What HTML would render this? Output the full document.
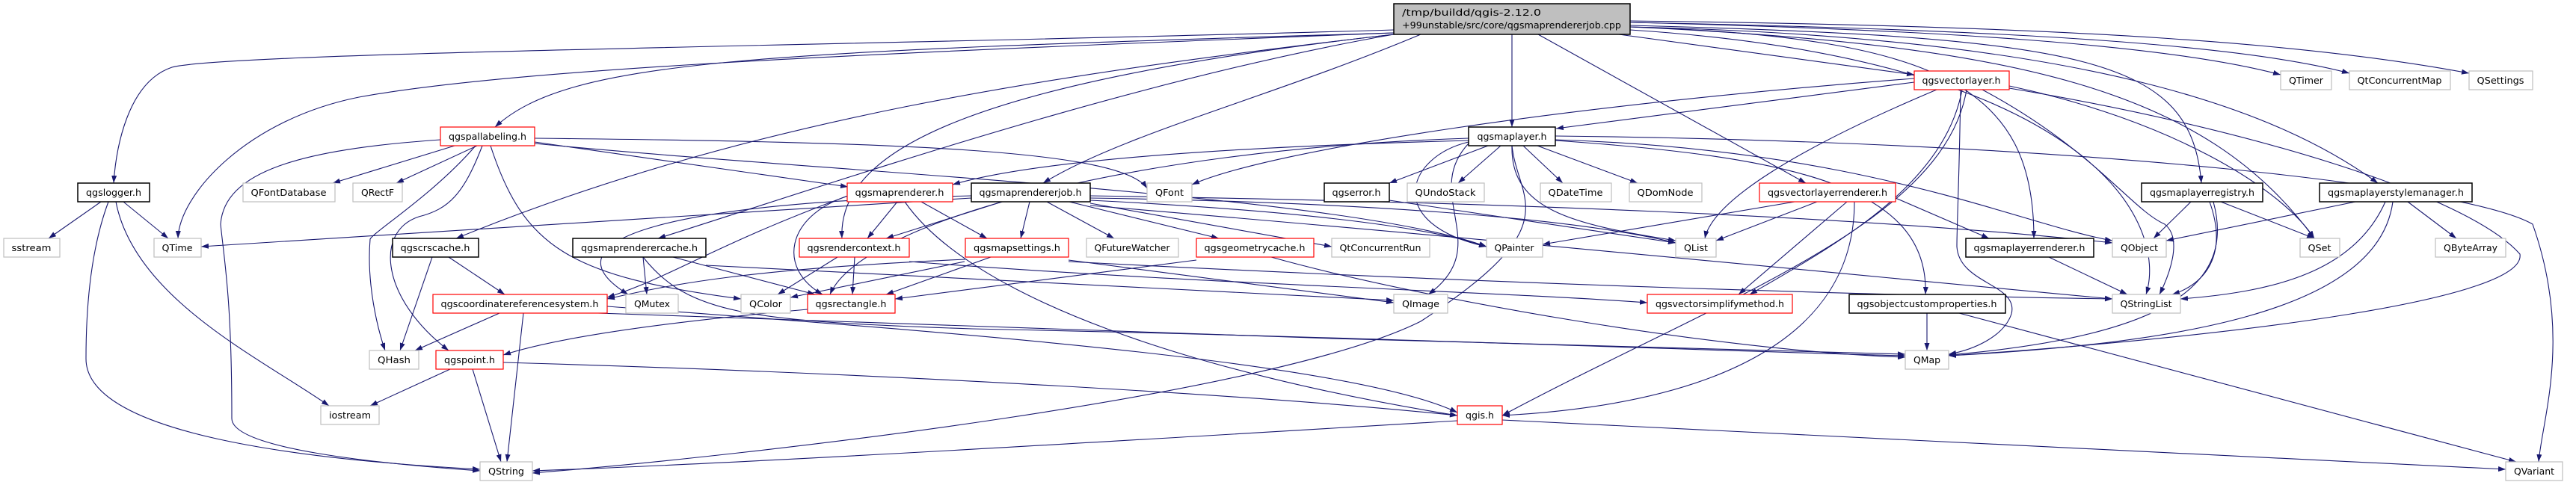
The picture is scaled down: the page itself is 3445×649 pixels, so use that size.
<!DOCTYPE html>
<html><head><meta charset="utf-8"><style>
html,body{margin:0;padding:0;background:#fff;}
svg{display:block}
text{font-family:"DejaVu Sans","Liberation Sans",sans-serif;font-size:12.5px;fill:#000}
.e{fill:none;stroke:#191970;stroke-width:1.1;marker-end:url(#a)}
.r{fill:#fff;stroke:#ff0000;stroke-width:1.2}
.b{fill:#fff;stroke:#000;stroke-width:1.5}
.g{fill:#fff;stroke:#bfbfbf;stroke-width:1.2}
</style></head><body>
<svg width="3445" height="649" viewBox="0 0 3445 649" xmlns="http://www.w3.org/2000/svg">
<defs><marker id="a" markerUnits="userSpaceOnUse" markerWidth="11" markerHeight="8" refX="10" refY="3.5" orient="auto"><path d="M0,0 L10,3.5 L0,7 z" fill="#191970"/></marker></defs>
<g>
<path class="e" d="M1864,40 C1200,60 300,70 230,90 C170,110 155,200 152,245"/>
<path class="e" d="M1864,44 C1200,70 700,90 480,130 C330,160 240,260 238,319"/>
<path class="e" d="M1864,44 C1000,70 760,80 662,170"/>
<path class="e" d="M1864,46 C1400,100 1000,160 610,319"/>
<path class="e" d="M1864,46 C1500,110 1100,250 880,319"/>
<path class="e" d="M1864,46 C1300,110 1120,200 1126,319"/>
<path class="e" d="M1900,46 C1700,130 1500,180 1395,245"/>
<path class="e" d="M2022,46 L2022,170"/>
<path class="e" d="M2057,46 L2415,245"/>
<path class="e" d="M2165,46 L2560,100"/>
<path class="e" d="M2180,30 C2600,40 2900,60 3050,100"/>
<path class="e" d="M2180,30 C2700,40 3000,60 3142,98"/>
<path class="e" d="M2180,28 C2800,35 3100,60 3302,98"/>
<path class="e" d="M2180,34 C2800,50 2930,80 2944,245"/>
<path class="e" d="M2180,36 C2800,50 3050,150 3180,245"/>
<path class="e" d="M2180,36 C2600,50 2720,120 2720,319"/>
<path class="e" d="M2180,36 C2700,60 2950,120 3095,319"/>
<path class="e" d="M2180,40 C2800,80 2900,300 2870,394"/>
<path class="e" d="M608,195 L445,245"/>
<path class="e" d="M638,195 L530,245"/>
<path class="e" d="M636,195 C580,260 500,310 495,320 C490,380 505,440 515,469"/>
<path class="e" d="M645,195 C620,260 600,280 560,290 C500,310 510,400 600,469"/>
<path class="e" d="M589,187 C400,200 300,230 295,300 C300,350 310,400 310,560 C310,600 500,620 642,630"/>
<path class="e" d="M715,190 L1134,250"/>
<path class="e" d="M715,185 C1200,190 1500,200 1534,252"/>
<path class="e" d="M656,195 C700,330 760,370 991,400"/>
<path class="e" d="M715,192 C1100,230 1800,260 1988,330"/>
<path class="e" d="M135,270 L65,319"/>
<path class="e" d="M165,270 L225,319"/>
<path class="e" d="M155,270 C180,400 350,480 440,543"/>
<path class="e" d="M145,270 C115,350 115,450 115,480 C115,580 400,615 642,628"/>
<path class="e" d="M578,344 L535,469"/>
<path class="e" d="M600,344 L675,394"/>
<path class="e" d="M668,419 L555,469"/>
<path class="e" d="M700,419 L678,618"/>
<path class="e" d="M800,419 C1300,440 2000,460 2548,474"/>
<path class="e" d="M812,410 C1200,440 1800,480 1949,552"/>
<path class="e" d="M602,494 L495,543"/>
<path class="e" d="M632,494 L670,618"/>
<path class="e" d="M673,485 C1200,500 1700,530 1949,556"/>
<path class="e" d="M860,344 L865,394"/>
<path class="e" d="M860,344 C920,420 1000,430 1300,440 C1800,450 2300,470 2548,476"/>
<path class="e" d="M900,344 L1090,394"/>
<path class="e" d="M944,355 L1864,402"/>
<path class="e" d="M1200,270 L1160,319"/>
<path class="e" d="M1232,270 L1320,319"/>
<path class="e" d="M1134,262 C1050,290 1040,360 1100,394"/>
<path class="e" d="M1134,262 C950,330 900,370 812,398"/>
<path class="e" d="M1210,270 C1300,400 1600,500 1949,556"/>
<path class="e" d="M1299,262 C900,270 720,320 840,394"/>
<path class="e" d="M1299,265 L269,330"/>
<path class="e" d="M1340,270 L1185,319"/>
<path class="e" d="M1377,270 L1365,319"/>
<path class="e" d="M1400,270 L1490,319"/>
<path class="e" d="M1430,270 L1630,319"/>
<path class="e" d="M1458,272 L1781,330"/>
<path class="e" d="M1458,268 C1700,280 1900,300 1988,330"/>
<path class="e" d="M1458,265 C1800,270 2100,290 2241,325"/>
<path class="e" d="M1458,262 C2000,270 2500,290 2825,325"/>
<path class="e" d="M1458,275 C2000,320 2500,370 2825,400"/>
<path class="e" d="M1120,344 L1040,394"/>
<path class="e" d="M1143,344 L1140,394"/>
<path class="e" d="M1216,350 C1600,380 2000,390 2203,405"/>
<path class="e" d="M1325,344 L1185,394"/>
<path class="e" d="M1290,350 L1057,398"/>
<path class="e" d="M1291,347 C1000,360 900,380 812,400"/>
<path class="e" d="M1429,348 L1864,405"/>
<path class="e" d="M1429,350 C2000,380 2500,395 2825,400"/>
<path class="e" d="M1600,348 L1197,400"/>
<path class="e" d="M1700,344 C1900,400 2300,470 2548,478"/>
<path class="e" d="M1080,414 C900,430 750,450 673,475"/>
<path class="e" d="M1990,195 L1858,245"/>
<path class="e" d="M2007,195 L1950,245"/>
<path class="e" d="M2037,195 L2090,245"/>
<path class="e" d="M2056,195 L2190,245"/>
<path class="e" d="M1964,188 C1700,195 1400,210 1274,247"/>
<path class="e" d="M1964,185 C1500,200 1150,300 1110,394"/>
<path class="e" d="M1964,190 C1880,210 1850,300 1988,330"/>
<path class="e" d="M1964,192 C1900,260 2000,330 1910,394"/>
<path class="e" d="M2022,195 C2020,280 2100,300 2241,322"/>
<path class="e" d="M2080,187 C2500,200 2700,300 2825,322"/>
<path class="e" d="M2080,182 C2800,190 3300,250 3387,300 C3440,450 3400,560 3395,618"/>
<path class="e" d="M2080,188 C2400,210 2580,250 2575,394"/>
<path class="e" d="M2022,195 C2030,270 2100,300 1900,430 C1700,530 1000,610 712,633"/>
<path class="e" d="M1858,268 L2241,325"/>
<path class="e" d="M2400,270 L2063,327"/>
<path class="e" d="M2430,270 L2295,322"/>
<path class="e" d="M2470,270 L2325,394"/>
<path class="e" d="M2480,270 C2480,450 2300,540 2009,556"/>
<path class="e" d="M2535,265 L2660,319"/>
<path class="e" d="M2560,110 L2081,172"/>
<path class="e" d="M2560,105 C2100,140 1700,200 1594,247"/>
<path class="e" d="M2590,120 C2400,200 2290,270 2280,319"/>
<path class="e" d="M2624,120 C2600,250 2450,330 2340,394"/>
<path class="e" d="M2622,120 C2620,250 2617,300 2617,330 C2620,380 2700,380 2690,420 C2680,450 2640,468 2606,474"/>
<path class="e" d="M2651,120 C2800,200 2850,280 2895,300 C2920,320 2900,370 2888,394"/>
<path class="e" d="M2687,115 C2900,160 3050,250 3095,319"/>
<path class="e" d="M2687,118 C3000,170 3300,260 3370,340 C3380,400 3000,450 2606,476"/>
<path class="e" d="M2630,120 C2600,300 2300,400 2009,556"/>
<path class="e" d="M2577,419 L2577,469"/>
<path class="e" d="M2620,419 L3365,618"/>
<path class="e" d="M2740,344 L2845,394"/>
<path class="e" d="M2930,270 L2880,319"/>
<path class="e" d="M2970,270 L3095,319"/>
<path class="e" d="M2955,270 C2980,340 2950,380 2905,394"/>
<path class="e" d="M2960,270 C2990,380 2900,450 2606,475"/>
<path class="e" d="M3150,270 L2897,322"/>
<path class="e" d="M3220,270 L3285,319"/>
<path class="e" d="M3190,270 C3150,360 3050,390 2916,400"/>
<path class="e" d="M3200,270 C3180,420 2900,460 2606,476"/>
<path class="e" d="M1949,563 C1500,590 1000,620 712,630"/>
<path class="e" d="M2009,562 L3351,628"/>
</g>
<rect x="1864" y="5" width="316" height="41" fill="#bfbfbf" stroke="#000" stroke-width="1.5"/>
<text x="1875" y="21" textLength="186" lengthAdjust="spacingAndGlyphs">/tmp/buildd/qgis-2.12.0</text>
<text x="1875" y="38" textLength="293" lengthAdjust="spacingAndGlyphs">+99unstable/src/core/qgsmaprendererjob.cpp</text>
<g>
<rect class="r" x="589" y="170" width="126" height="25"/><text x="652" y="187" text-anchor="middle" textLength="104" lengthAdjust="spacingAndGlyphs">qgspallabeling.h</text>
<rect class="b" x="104" y="245" width="96" height="25"/><text x="152" y="262" text-anchor="middle" textLength="74" lengthAdjust="spacingAndGlyphs">qgslogger.h</text>
<rect class="g" x="325" y="245" width="123" height="25"/><text x="386" y="262" text-anchor="middle" textLength="101" lengthAdjust="spacingAndGlyphs">QFontDatabase</text>
<rect class="g" x="472" y="245" width="66" height="25"/><text x="505" y="262" text-anchor="middle" textLength="44" lengthAdjust="spacingAndGlyphs">QRectF</text>
<rect class="g" x="5" y="319" width="75" height="25"/><text x="42" y="336" text-anchor="middle" textLength="53" lengthAdjust="spacingAndGlyphs">sstream</text>
<rect class="g" x="206" y="319" width="63" height="25"/><text x="237" y="336" text-anchor="middle" textLength="41" lengthAdjust="spacingAndGlyphs">QTime</text>
<rect class="b" x="525" y="319" width="115" height="25"/><text x="582" y="336" text-anchor="middle" textLength="93" lengthAdjust="spacingAndGlyphs">qgscrscache.h</text>
<rect class="b" x="766" y="319" width="178" height="25"/><text x="855" y="336" text-anchor="middle" textLength="156" lengthAdjust="spacingAndGlyphs">qgsmaprenderercache.h</text>
<rect class="r" x="579" y="394" width="233" height="25"/><text x="695" y="411" text-anchor="middle" textLength="211" lengthAdjust="spacingAndGlyphs">qgscoordinatereferencesystem.h</text>
<rect class="g" x="837" y="394" width="70" height="25"/><text x="872" y="411" text-anchor="middle" textLength="48" lengthAdjust="spacingAndGlyphs">QMutex</text>
<rect class="g" x="494" y="469" width="66" height="25"/><text x="527" y="486" text-anchor="middle" textLength="44" lengthAdjust="spacingAndGlyphs">QHash</text>
<rect class="r" x="583" y="469" width="90" height="25"/><text x="628" y="486" text-anchor="middle" textLength="68" lengthAdjust="spacingAndGlyphs">qgspoint.h</text>
<rect class="g" x="429" y="543" width="78" height="25"/><text x="468" y="560" text-anchor="middle" textLength="56" lengthAdjust="spacingAndGlyphs">iostream</text>
<rect class="g" x="642" y="618" width="70" height="25"/><text x="677" y="635" text-anchor="middle" textLength="48" lengthAdjust="spacingAndGlyphs">QString</text>
<rect class="r" x="1133" y="245" width="141" height="25"/><text x="1203" y="262" text-anchor="middle" textLength="119" lengthAdjust="spacingAndGlyphs">qgsmaprenderer.h</text>
<rect class="b" x="1299" y="245" width="159" height="25"/><text x="1378" y="262" text-anchor="middle" textLength="137" lengthAdjust="spacingAndGlyphs">qgsmaprendererjob.h</text>
<rect class="g" x="1534" y="245" width="60" height="25"/><text x="1564" y="262" text-anchor="middle" textLength="38" lengthAdjust="spacingAndGlyphs">QFont</text>
<rect class="r" x="1069" y="319" width="147" height="25"/><text x="1142" y="336" text-anchor="middle" textLength="125" lengthAdjust="spacingAndGlyphs">qgsrendercontext.h</text>
<rect class="r" x="1291" y="319" width="138" height="25"/><text x="1360" y="336" text-anchor="middle" textLength="116" lengthAdjust="spacingAndGlyphs">qgsmapsettings.h</text>
<rect class="g" x="1453" y="319" width="123" height="25"/><text x="1514" y="336" text-anchor="middle" textLength="101" lengthAdjust="spacingAndGlyphs">QFutureWatcher</text>
<rect class="r" x="1600" y="319" width="157" height="25"/><text x="1678" y="336" text-anchor="middle" textLength="135" lengthAdjust="spacingAndGlyphs">qgsgeometrycache.h</text>
<rect class="g" x="991" y="394" width="66" height="25"/><text x="1024" y="411" text-anchor="middle" textLength="44" lengthAdjust="spacingAndGlyphs">QColor</text>
<rect class="r" x="1080" y="394" width="117" height="25"/><text x="1138" y="411" text-anchor="middle" textLength="95" lengthAdjust="spacingAndGlyphs">qgsrectangle.h</text>
<rect class="b" x="1964" y="170" width="116" height="25"/><text x="2022" y="187" text-anchor="middle" textLength="93" lengthAdjust="spacingAndGlyphs">qgsmaplayer.h</text>
<rect class="r" x="2560" y="95" width="127" height="25"/><text x="2623" y="112" text-anchor="middle" textLength="105" lengthAdjust="spacingAndGlyphs">qgsvectorlayer.h</text>
<rect class="b" x="1771" y="245" width="87" height="25"/><text x="1814" y="262" text-anchor="middle" textLength="65" lengthAdjust="spacingAndGlyphs">qgserror.h</text>
<rect class="g" x="1882" y="245" width="103" height="25"/><text x="1933" y="262" text-anchor="middle" textLength="81" lengthAdjust="spacingAndGlyphs">QUndoStack</text>
<rect class="g" x="2060" y="245" width="95" height="25"/><text x="2107" y="262" text-anchor="middle" textLength="73" lengthAdjust="spacingAndGlyphs">QDateTime</text>
<rect class="g" x="2179" y="245" width="97" height="25"/><text x="2227" y="262" text-anchor="middle" textLength="75" lengthAdjust="spacingAndGlyphs">QDomNode</text>
<rect class="r" x="2353" y="245" width="182" height="25"/><text x="2444" y="262" text-anchor="middle" textLength="160" lengthAdjust="spacingAndGlyphs">qgsvectorlayerrenderer.h</text>
<rect class="g" x="1781" y="319" width="131" height="25"/><text x="1846" y="336" text-anchor="middle" textLength="109" lengthAdjust="spacingAndGlyphs">QtConcurrentRun</text>
<rect class="g" x="1988" y="319" width="75" height="25"/><text x="2025" y="336" text-anchor="middle" textLength="53" lengthAdjust="spacingAndGlyphs">QPainter</text>
<rect class="g" x="2241" y="319" width="54" height="25"/><text x="2268" y="336" text-anchor="middle" textLength="32" lengthAdjust="spacingAndGlyphs">QList</text>
<rect class="g" x="1864" y="394" width="72" height="25"/><text x="1900" y="411" text-anchor="middle" textLength="50" lengthAdjust="spacingAndGlyphs">QImage</text>
<rect class="r" x="2203" y="394" width="194" height="25"/><text x="2300" y="411" text-anchor="middle" textLength="172" lengthAdjust="spacingAndGlyphs">qgsvectorsimplifymethod.h</text>
<rect class="b" x="2473" y="394" width="209" height="25"/><text x="2577" y="411" text-anchor="middle" textLength="187" lengthAdjust="spacingAndGlyphs">qgsobjectcustomproperties.h</text>
<rect class="g" x="2548" y="469" width="58" height="25"/><text x="2577" y="486" text-anchor="middle" textLength="36" lengthAdjust="spacingAndGlyphs">QMap</text>
<rect class="r" x="1949" y="543" width="60" height="25"/><text x="1979" y="560" text-anchor="middle" textLength="38" lengthAdjust="spacingAndGlyphs">qgis.h</text>
<rect class="g" x="3050" y="95" width="68" height="25"/><text x="3084" y="112" text-anchor="middle" textLength="46" lengthAdjust="spacingAndGlyphs">QTimer</text>
<rect class="g" x="3142" y="95" width="135" height="25"/><text x="3209" y="112" text-anchor="middle" textLength="113" lengthAdjust="spacingAndGlyphs">QtConcurrentMap</text>
<rect class="g" x="3302" y="95" width="85" height="25"/><text x="3344" y="112" text-anchor="middle" textLength="63" lengthAdjust="spacingAndGlyphs">QSettings</text>
<rect class="b" x="2864" y="245" width="162" height="25"/><text x="2945" y="262" text-anchor="middle" textLength="140" lengthAdjust="spacingAndGlyphs">qgsmaplayerregistry.h</text>
<rect class="b" x="3102" y="245" width="204" height="25"/><text x="3204" y="262" text-anchor="middle" textLength="182" lengthAdjust="spacingAndGlyphs">qgsmaplayerstylemanager.h</text>
<rect class="b" x="2629" y="319" width="171" height="25"/><text x="2714" y="336" text-anchor="middle" textLength="149" lengthAdjust="spacingAndGlyphs">qgsmaplayerrenderer.h</text>
<rect class="g" x="2825" y="319" width="72" height="25"/><text x="2861" y="336" text-anchor="middle" textLength="50" lengthAdjust="spacingAndGlyphs">QObject</text>
<rect class="g" x="3076" y="319" width="53" height="25"/><text x="3102" y="336" text-anchor="middle" textLength="31" lengthAdjust="spacingAndGlyphs">QSet</text>
<rect class="g" x="3257" y="319" width="94" height="25"/><text x="3304" y="336" text-anchor="middle" textLength="72" lengthAdjust="spacingAndGlyphs">QByteArray</text>
<rect class="g" x="2825" y="394" width="91" height="25"/><text x="2870" y="411" text-anchor="middle" textLength="69" lengthAdjust="spacingAndGlyphs">QStringList</text>
<rect class="g" x="3351" y="618" width="76" height="25"/><text x="3389" y="635" text-anchor="middle" textLength="54" lengthAdjust="spacingAndGlyphs">QVariant</text>
</g>
</svg>
</body></html>
